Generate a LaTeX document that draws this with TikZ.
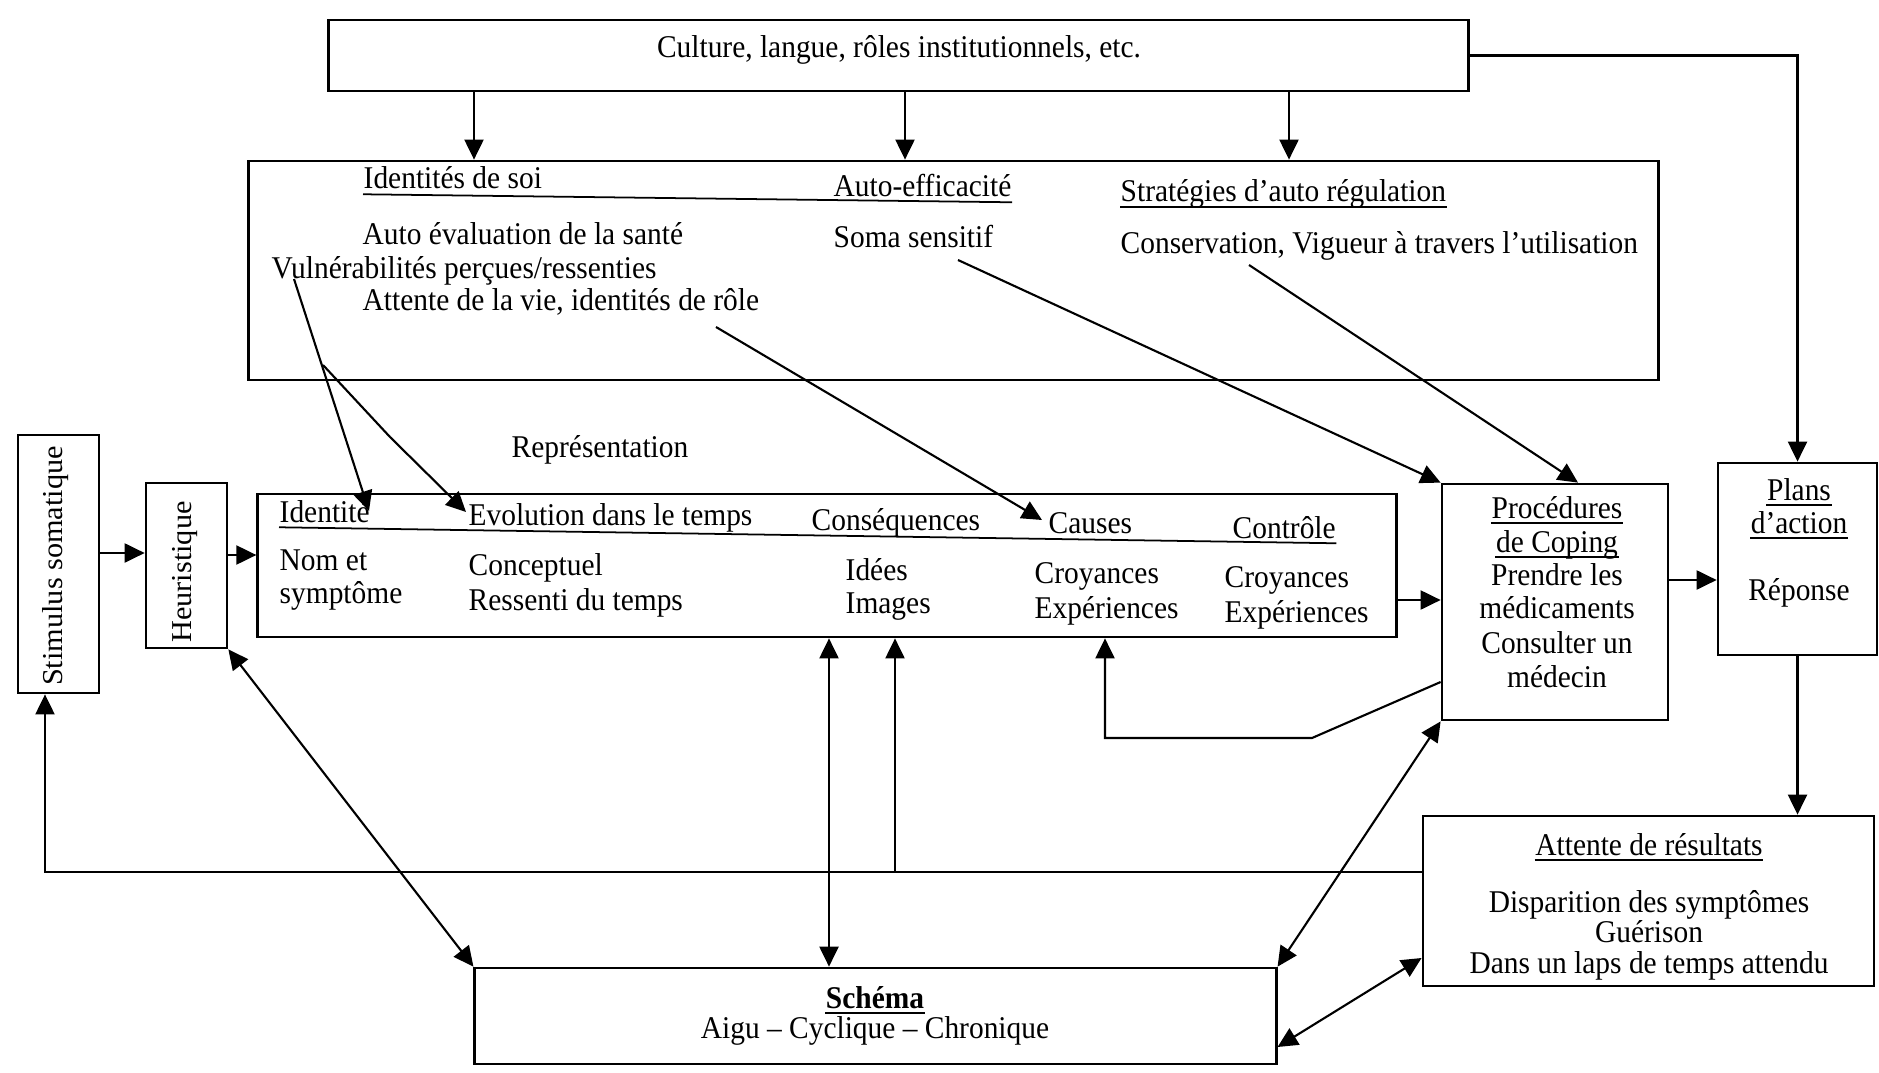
\documentclass[tikz,border=0pt]{standalone}
\usepackage{fontspec}
\setmainfont{Liberation Serif}[FakeStretch=0.93]
\newfontfamily\tournee{Liberation Serif}[FakeStretch=1.05]
\usetikzlibrary{arrows.meta}
\def\pointe{Triangle[length=0.2cm,width=0.19cm]}
\tikzset{
	boite/.style={draw, line width=0.75pt, inner sep=0pt},
	texte/.style={inner sep=0pt, font=\fontsize{9}{9.5}\selectfont},
	vertical/.style={inner sep=0pt, rotate=90, font=\tournee\fontsize{8.2}{9}\selectfont},
	trait/.style={line width=0.6pt},
	souligne/.style={line width=0.5pt},
	fleche/.style={trait, -{\pointe}},
	fleches/.style={trait, {\pointe}-{\pointe}}
}

\begin{document}
\begin{tikzpicture}[x=0.01cm, y=-0.01cm]
			%%%%% START %%%%%
			\useasboundingbox (0,0) rectangle (1879,1073);
			
			% les boites
			\node[boite, minimum width=11.39cm, minimum height=0.71cm] (culture) at (898.5,55.5) {};
			\node[boite, minimum width=14.09cm, minimum height=2.19cm] (soi) at (953.5,270.5) {};
			\node[boite, minimum width=0.81cm, minimum height=2.58cm] (stim) at (58.5,564) {};
			\node[boite, minimum width=0.81cm, minimum height=1.65cm] (heur) at (186.5,565.5) {};
			\node[boite, minimum width=11.38cm, minimum height=1.43cm] (rep) at (827,565.5) {};
			\node[boite, minimum width=2.26cm, minimum height=2.36cm] (coping) at (1555,602) {};
			\node[boite, minimum width=1.59cm, minimum height=1.92cm] (plans) at (1797.5,559) {};
			\node[boite, minimum width=4.51cm, minimum height=1.70cm] (attente) at (1648.5,901) {};
			\node[boite, minimum width=8.01cm, minimum height=0.96cm] (schema) at (875.5,1016) {};
			
			% culture
			\node[texte, anchor=base] (tCulture) at (899,58) {Culture, langue, rôles institutionnels, etc.};
			
			% identites de soi
			\node[texte, anchor=base west] (tIdsoi) at (363,189) {Identités de soi};
			\node[texte, anchor=base west] (tAutoeff) at (833,197) {Auto-efficacité};
			\node[texte, anchor=base west] (tStrat) at (1120,202) {Stratégies d’auto régulation};
			\node[texte, anchor=base west] (tAutoeval) at (362,245) {Auto évaluation de la santé};
			\node[texte, anchor=base west] (tVuln) at (271,278) {Vulnérabilités perçues/ressenties};
			\node[texte, anchor=base west] (tAttvie) at (362,310) {Attente de la vie, identités de rôle};
			\node[texte, anchor=base west] (tSoma) at (833,248) {Soma sensitif};
			\node[texte, anchor=base west] (tConserv) at (1120,253) {Conservation, Vigueur à travers l’utilisation};
			\draw[souligne] ([yshift=-1.5pt]tIdsoi.base west) -- ([yshift=-1.5pt]tAutoeff.base east);
			\draw[souligne] ([yshift=-1.5pt]tStrat.base west) -- ([yshift=-1.5pt]tStrat.base east);
			
			% representation
			\node[texte, anchor=base] (tRepr) at (600,457) {Représentation};
			\node[texte, anchor=base west] (tIdentite) at (279,522) {Identité};
			\node[texte, anchor=base west] (tEvol) at (468,525) {Evolution dans le temps};
			\node[texte, anchor=base west] (tConseq) at (811,530) {Conséquences};
			\node[texte, anchor=base west] (tCauses) at (1048,533) {Causes};
			\node[texte, anchor=base west] (tControle) at (1232,538) {Contrôle};
			\draw[souligne] ([yshift=-1.5pt]tIdentite.base west) -- ([yshift=-1.5pt]tControle.base east);
			\node[texte, anchor=base west] (tNom) at (279,570) {Nom et};
			\node[texte, anchor=base west] (tSympt) at (279,603) {symptôme};
			\node[texte, anchor=base west] (tConcept) at (468,575) {Conceptuel};
			\node[texte, anchor=base west] (tRessenti) at (468,610) {Ressenti du temps};
			\node[texte, anchor=base west] (tIdees) at (845,580) {Idées};
			\node[texte, anchor=base west] (tImages) at (845,613) {Images};
			\node[texte, anchor=base west] (tCroyA) at (1034,583) {Croyances};
			\node[texte, anchor=base west] (tExpA) at (1034,618) {Expériences};
			\node[texte, anchor=base west] (tCroyB) at (1224,587) {Croyances};
			\node[texte, anchor=base west] (tExpB) at (1224,622) {Expériences};
			
			% textes verticaux
			\node[vertical] (tStim) at (56,566) {Stimulus somatique};
			\node[vertical] (tHeur) at (185,572) {Heuristique};
			
			% coping
			\node[texte, anchor=base] (tProc) at (1557,518) {Procédures};
			\node[texte, anchor=base] (tDeCoping) at (1557,552) {de Coping};
			\draw[souligne] ([yshift=-1.5pt]tProc.base west) -- ([yshift=-1.5pt]tProc.base east);
			\draw[souligne] ([yshift=-1.5pt]tDeCoping.base west) -- ([yshift=-1.5pt]tDeCoping.base east);
			\node[texte, anchor=base] (tPrendre) at (1557,585) {Prendre les};
			\node[texte, anchor=base] (tMedic) at (1557,618) {médicaments};
			\node[texte, anchor=base] (tConsult) at (1557,653) {Consulter un};
			\node[texte, anchor=base] (tMedecin) at (1557,687) {médecin};
			
			% plans
			\node[texte, anchor=base] (tPlans) at (1799,500) {Plans};
			\node[texte, anchor=base] (tAction) at (1799,533) {d’action};
			\draw[souligne] ([yshift=-1.5pt]tPlans.base west) -- ([yshift=-1.5pt]tPlans.base east);
			\draw[souligne] ([yshift=-1.5pt]tAction.base west) -- ([yshift=-1.5pt]tAction.base east);
			\node[texte, anchor=base] (tReponse) at (1799,600) {Réponse};
			
			% attente de resultats
			\node[texte, anchor=base] (tAttRes) at (1649,855) {Attente de résultats};
			\draw[souligne] ([yshift=-1.5pt]tAttRes.base west) -- ([yshift=-1.5pt]tAttRes.base east);
			\node[texte, anchor=base] (tDisp) at (1649,912) {Disparition des symptômes};
			\node[texte, anchor=base] (tGuer) at (1649,942) {Guérison};
			\node[texte, anchor=base] (tLaps) at (1649,973) {Dans un laps de temps attendu};
			
			% schema
			\node[texte, anchor=base] (tSchema) at (875,1008) {\bfseries Schéma};
			\draw[souligne] ([yshift=-1.5pt]tSchema.base west) -- ([yshift=-1.5pt]tSchema.base east);
			\node[texte, anchor=base] (tAigu) at (875,1038) {Aigu -- Cyclique -- Chronique};
			
			% fleches du haut
			\draw[fleche] (culture.south -| 474,0) -- (soi.north -| 474,0);
			\draw[fleche] (culture.south -| 905,0) -- (soi.north -| 905,0);
			\draw[fleche] (culture.south -| 1289,0) -- (soi.north -| 1289,0);
			\draw[fleche] (culture.east) -| (plans.north);
			
			% fleches horizontales
			\draw[fleche] (stim.east |- 0,553) -- (heur.west |- 0,553);
			\draw[fleche] (heur.east |- 0,555) -- (rep.west |- 0,555);
			\draw[fleche] (rep.east |- 0,600) -- (coping.west |- 0,600);
			\draw[fleche] (coping.east |- 0,580) -- (plans.west |- 0,580);
			\draw[fleche] (plans.south) -- (plans.south |- attente.north);
			
			% fleches depuis les identites de soi
			\coordinate (vul) at (294,279);
			\coordinate (fourche) at (323,365);
			\coordinate (coude) at (390,437);
			\coordinate (attvie) at (716,327);
			\coordinate (soma) at (958,260);
			\coordinate (conserv) at (1249,265);
			\draw[fleche] (vul) -- (369,511);
			\draw[fleche] (fourche) -- (coude) -- (466,512);
			\draw[fleche] (attvie) -- (1042,520);
			\draw[fleche] (soma) -- (coping.north west);
			\draw[fleche] (conserv) -- (coping.north -| 1578,0);
			
			% retours
			\coordinate (retour) at (895,872);
			\draw[fleche] (attente.west |- retour) -- (45,872) -- (stim.south -| 45,0);
			\draw[fleche] (retour) -- (rep.south -| retour);
			\coordinate (bas) at (1312,738);
			\draw[fleche] (coping.west |- 0,682) -- (bas) -- (1105,738) -- (rep.south -| 1105,0);
			
			% doubles fleches vers le schema
			\draw[fleches] (rep.south -| 829,0) -- (schema.north -| 829,0);
			\draw[fleches] (heur.south east) -- (schema.north west);
			\draw[fleches] (coping.south west) -- (schema.north east);
			\draw[fleches] (attente.west |- 0,958) -- (schema.east |- 0,1047);
			
			%%%%% END %%%%%
\end{tikzpicture}
\end{document}
